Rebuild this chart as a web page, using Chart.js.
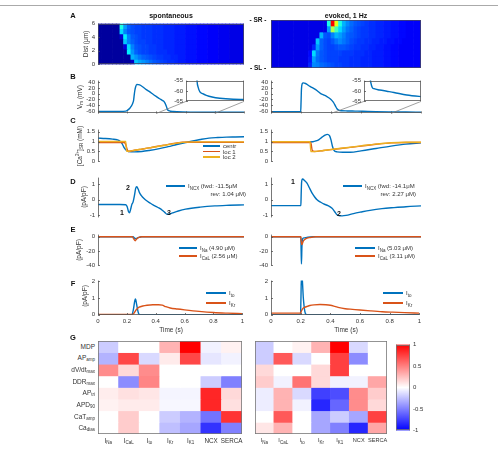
<!DOCTYPE html>
<html>
<head>
<meta charset="utf-8">
<title>Ca wave and currents</title>
<script src="https://cdn.jsdelivr.net/npm/chart.js@4.4.1/dist/chart.umd.min.js"></script>
<style>
  html, body { margin: 0; padding: 0; background: #fff; }
  #fig { position: relative; width: 498px; height: 452px; overflow: hidden;
         font-family: "Liberation Sans", Arial, sans-serif; color: #333; }
  #fig canvas { position: absolute; }
  .t { position: absolute; white-space: nowrap; line-height: 1; font-size: 6px; z-index: 5; }
  .t sub { font-size: 4.5px; vertical-align: -1.5px; line-height: 0; }
  .t sup { font-size: 4.5px; vertical-align: 2.5px; line-height: 0; }
  .b { font-weight: bold; color: #111; }
  .ln { position: absolute; height: 1.5px; z-index: 5; }
</style>
</head>
<body>
<div id="fig"></div>
<script>
// ---------- data ----------
const timeTicks = [0, 0.2, 0.4, 0.6, 0.8, 1];
const distTicks = [0, 2, 4, 6];
const vmTicks = [-60, -40, -20, 0, 20, 40];
const insetTicks = [-65, -60, -55];
const caTicks = [0, 0.5, 1, 1.5];
const ncxTicks = [-1, 0, 1];
const inTicks = [-40, -20, 0];
const outTicks = [0, 1, 2];
const cbTicks = [-1, -0.5, 0, 0.5, 1];

// panel A: line scan, rows from 6 um down to 0 um, columns 0..1 s in 40 bins (jet level 0-100)
const distEdges = [6, 5.25, 4.5, 3.75, 3, 2.25, 1.5, 0.75, 0];
const caMapSpont = [
  [3,3,3,3,3,3,40,28,22,20,19,19,18,18,18,17,17,17,16,16,16,15,15,15,14,14,14,13,13,13,12,12,12,11,11,11,10,10,10,10],
  [3,3,3,3,3,3,34,25,21,20,19,19,18,18,18,17,17,17,16,16,16,15,15,15,14,14,14,13,13,13,12,12,12,11,11,11,10,10,10,10],
  [3,3,3,3,3,3,8,36,25,21,20,19,18,18,18,17,17,17,16,16,16,15,15,15,14,14,14,13,13,13,12,12,12,11,11,11,10,10,10,10],
  [3,3,3,3,3,3,3,32,25,22,20,19,19,18,18,17,17,17,16,16,16,15,15,15,14,14,14,13,13,13,12,12,12,11,11,11,10,10,10,10],
  [3,3,3,3,3,3,3,9,34,25,21,20,19,19,18,18,17,17,16,16,16,15,15,15,14,14,14,13,13,13,12,12,12,11,11,11,10,10,10,10],
  [3,3,3,3,3,3,3,3,36,27,22,20,19,19,18,18,17,17,17,16,16,15,15,15,14,14,14,13,13,13,12,12,12,11,11,11,10,10,10,10],
  [3,3,3,3,3,3,3,3,3,30,27,24,22,21,20,19,18,18,17,17,16,16,15,15,14,14,14,13,13,13,12,12,12,11,11,11,10,10,10,10],
  [3,3,3,3,3,3,3,3,3,7,32,29,27,25,23,21,20,19,18,17,17,16,15,15,14,14,14,13,13,13,12,12,12,11,11,11,10,10,10,10]
];
const caMapEvk = [
  [10,10,10,10,10,10,10,10,10,10,10,10,10,10,10,40,88,60,40,30,26,23,21,20,19,18,17,17,16,16,15,15,14,14,13,13,12,12,12,12],
  [10,10,10,10,10,10,10,10,10,10,10,10,10,10,10,28,55,44,34,28,24,22,20,19,18,18,17,17,16,16,15,15,14,14,13,13,12,12,12,12],
  [10,10,10,10,10,10,10,10,10,10,10,10,10,30,21,20,25,30,28,25,22,21,20,19,18,18,17,17,16,16,15,15,14,14,13,13,12,12,12,12],
  [10,10,10,10,10,10,10,10,10,10,10,10,32,22,20,19,21,24,26,24,22,20,19,18,18,17,17,16,16,15,15,14,14,13,13,12,12,12,12,12],
  [10,10,10,10,10,10,10,10,10,10,10,16,28,22,20,19,19,20,21,21,20,19,18,18,17,17,16,16,15,15,14,14,13,13,12,12,12,12,12,12],
  [10,10,10,10,10,10,10,10,10,10,13,34,24,21,20,19,19,19,19,18,18,18,17,17,17,16,16,15,15,15,14,14,13,13,12,12,12,12,12,12],
  [10,10,10,10,10,10,10,10,10,10,14,28,23,21,20,19,19,19,18,18,18,17,17,17,16,16,16,15,15,15,14,14,13,13,12,12,12,12,12,12],
  [10,10,10,10,10,10,10,10,10,10,16,26,25,23,22,21,20,19,19,18,18,17,17,17,16,16,16,15,15,15,14,14,13,13,12,12,12,12,12,12]
];

// panel B: membrane potential (mV)
const tVmSpont = [0, 0.1, 0.19, 0.205, 0.218, 0.228, 0.238, 0.244, 0.248, 0.252, 0.258, 0.266, 0.285, 0.31, 0.331, 0.355, 0.377, 0.4, 0.422, 0.44, 0.455, 0.468, 0.476, 0.485, 0.496, 0.515, 0.54, 0.58, 0.633, 0.725, 0.8, 0.9, 1.0];
const vmSpont = [-61, -61, -60, -56, -50, -43, -33, -22, -5, 10, 24, 32, 30, 22, 14, 6, -2, -10, -17.5, -23, -29, -43, -55, -58.5, -60.4, -61.3, -62.1, -62.9, -63.5, -64, -64.1, -64.2, -64.2];
const tVmEvk = [0, 0.198, 0.2, 0.203, 0.208, 0.215, 0.23, 0.26, 0.284, 0.31, 0.329, 0.35, 0.373, 0.39, 0.407, 0.42, 0.43, 0.44, 0.448, 0.458, 0.47, 0.51, 0.56, 0.61, 0.7, 0.8, 0.9, 1.0];
const vmEvk = [-62, -62, -35, 15, 34, 37, 35, 25, 18, 9, 1, -4, -10, -16, -24, -33, -43, -52, -56, -58.3, -58.9, -59.5, -60.1, -60.7, -61.9, -62.7, -63.3, -63.7];

// panel C: SR calcium (mM)
const tCaCtrS = [0, 0.05, 0.1, 0.13, 0.15, 0.165, 0.18, 0.195, 0.21, 0.25, 0.3, 0.35, 0.42, 0.48, 0.54, 0.6, 0.65, 0.7, 0.76, 0.82, 0.88, 0.94, 1.0];
const caCtrS = [1.17, 1.15, 1.12, 1.09, 1.03, 0.9, 0.68, 0.55, 0.5, 0.48, 0.5, 0.55, 0.64, 0.74, 0.85, 0.95, 1.03, 1.1, 1.17, 1.2, 1.22, 1.23, 1.24];
const tCaL1S = [0, 0.18, 0.19, 0.2, 0.207, 0.25, 0.3, 0.35, 0.4, 0.45, 0.5, 0.55, 0.58, 0.7, 0.85, 1.0];
const caL1S = [0.95, 0.95, 0.85, 0.6, 0.5, 0.56, 0.62, 0.68, 0.75, 0.81, 0.88, 0.94, 0.96, 0.96, 0.96, 0.96];
const tCaL2S = [0, 0.19, 0.196, 0.21, 0.25, 0.3, 0.35, 0.4, 0.45, 0.5, 0.55, 0.6, 0.7, 0.85, 1.0];
const caL2S = [1.0, 1.0, 0.52, 0.51, 0.56, 0.62, 0.68, 0.74, 0.8, 0.87, 0.93, 0.97, 0.98, 0.98, 0.98];
const tCaCtrE = [0, 0.15, 0.28, 0.3, 0.32, 0.34, 0.36, 0.375, 0.39, 0.4, 0.41, 0.42, 0.44, 0.48, 0.53, 0.6, 0.7, 0.8, 0.9, 1.0];
const caCtrE = [0.97, 0.97, 0.99, 1.03, 1.1, 1.22, 1.32, 1.36, 1.3, 1.08, 0.75, 0.56, 0.48, 0.46, 0.46, 0.53, 0.65, 0.77, 0.87, 0.93];
const tCaL1E = [0, 0.265, 0.275, 0.29, 0.35, 0.4, 0.5, 0.6, 0.7, 0.8, 0.9, 1.0];
const caL1E = [0.95, 0.95, 0.55, 0.5, 0.55, 0.59, 0.68, 0.77, 0.86, 0.93, 0.95, 0.95];
const tCaL2E = [0, 0.26, 0.266, 0.28, 0.35, 0.4, 0.5, 0.6, 0.7, 0.8, 0.9, 1.0];
const caL2E = [0.99, 0.99, 0.5, 0.49, 0.55, 0.6, 0.69, 0.78, 0.87, 0.94, 0.96, 0.96];

// panel D: I_NCX (pA/pF)
const tNcxS = [0, 0.15, 0.19, 0.2, 0.208, 0.216, 0.224, 0.232, 0.24, 0.25, 0.258, 0.266, 0.275, 0.285, 0.297, 0.315, 0.331, 0.355, 0.377, 0.4, 0.42, 0.44, 0.457, 0.473, 0.49, 0.51, 0.55, 0.6, 0.7, 0.8, 0.9, 1.0];
const ncxS = [-0.31, -0.31, -0.32, -0.45, -0.75, -0.85, -0.6, -0.3, -0.15, 0.3, 0.75, 0.85, 0.7, 0.45, 0.27, 0.08, -0.05, -0.2, -0.33, -0.44, -0.55, -0.68, -0.82, -0.95, -0.93, -0.86, -0.73, -0.61, -0.48, -0.4, -0.36, -0.33];
const tNcxE = [0, 0.199, 0.201, 0.204, 0.21, 0.225, 0.24, 0.255, 0.273, 0.29, 0.307, 0.33, 0.351, 0.38, 0.407, 0.425, 0.44, 0.457, 0.475, 0.5, 0.55, 0.6, 0.66, 0.74, 0.82, 0.9, 1.0];
const ncxE = [-0.38, -0.38, 0.3, 1.15, 1.36, 1.25, 1.09, 0.8, 0.45, 0.2, 0.0, -0.15, -0.27, -0.38, -0.55, -0.78, -0.98, -1.04, -1.05, -1.02, -0.9, -0.8, -0.69, -0.58, -0.51, -0.45, -0.4];

// panel E: inward currents (pA/pF)
const tNaS = [0, 0.24, 0.25, 0.26, 0.275, 0.3, 1.0];
const iNaS = [0, 0, -2, -2.6, -1.2, 0, 0];
const tCaLS = [0, 0.235, 0.245, 0.255, 0.265, 0.28, 0.3, 1.0];
const iCaLS = [0, 0, -3, -5.5, -3, -1, 0, 0];
const tNaE = [0, 0.199, 0.201, 0.203, 0.206, 0.21, 0.22, 0.24, 0.28, 1.0];
const iNaE = [0, 0, -20, -38, -15, -3, -1.5, -0.8, 0, 0];
const tCaLE = [0, 0.199, 0.202, 0.206, 0.215, 0.23, 0.26, 0.3, 1.0];
const iCaLE = [0, 0, -8, -11, -6, -3, -1, 0, 0];

// panel F: outward currents (pA/pF)
const tToS = [0, 0.235, 0.245, 0.255, 0.26, 0.268, 0.28, 0.29, 1.0];
const iToS = [0, 0, 0.3, 0.85, 0.95, 0.6, 0.1, 0, 0];
const tKrS = [0, 0.24, 0.25, 0.265, 0.285, 0.31, 0.34, 0.38, 0.42, 0.445, 0.47, 0.5, 0.55, 0.6, 0.7, 0.8, 0.9, 1.0];
const iKrS = [0.02, 0.02, 0.1, 0.3, 0.45, 0.52, 0.57, 0.6, 0.6, 0.57, 0.48, 0.4, 0.34, 0.29, 0.2, 0.13, 0.09, 0.06];
const tToE = [0, 0.199, 0.202, 0.205, 0.21, 0.218, 0.228, 0.24, 1.0];
const iToE = [0, 0, 1.0, 2.3, 2.2, 1.0, 0.2, 0, 0];
const tKrE = [0, 0.199, 0.205, 0.215, 0.225, 0.245, 0.262, 0.29, 0.33, 0.37, 0.4, 0.43, 0.46, 0.5, 0.55, 0.6, 0.67, 0.75, 0.82, 0.9, 1.0];
const iKrE = [0.09, 0.09, 0.22, 0.38, 0.43, 0.5, 0.55, 0.59, 0.61, 0.6, 0.57, 0.5, 0.42, 0.36, 0.32, 0.28, 0.23, 0.18, 0.15, 0.12, 0.09];

// panel G: sensitivity coefficients
const rowNames = [['MDP', ''], ['AP', 'amp'], ['dV/dt', 'max'], ['DDR', 'max'], ['AP', 'tri'], ['APD', '90'], ['CaT', 'amp'], ['Ca', 'dias']];
const colNames = [['I', 'Na'], ['I', 'CaL'], ['I', 'to'], ['I', 'Kr'], ['I', 'K1'], ['NCX', ''], ['SERCA', '']];
const sensSpont = [
  [-0.2, 0, 0, 0.3, 1.0, -0.05, 0.05],
  [-0.3, 0.72, -0.15, 0.08, 0.72, -0.1, -0.05],
  [0.45, 0.15, 0.45, 0, 0, 0, 0],
  [0, -0.45, 0.48, 0, 0, -0.2, -0.5],
  [0.07, 0.12, 0.1, -0.04, -0.04, 0.85, 0.15],
  [0.05, 0.08, 0.08, -0.03, -0.03, 0.85, 0.12],
  [0, 0.2, 0, -0.2, -0.3, -0.55, 0.8],
  [0, 0.2, 0, -0.25, -0.35, -0.8, -0.5]
];
const sensEvk = [
  [-0.2, 0, 0.05, 0.3, 1.0, -0.15, 0],
  [-0.2, 0.65, -0.15, 0, 0.75, -0.45, 0],
  [0.15, 0, 0, 0.15, 0.75, 0, 0],
  [0.2, -0.05, 0.55, 0.15, -0.05, -0.05, 0.35],
  [-0.07, 0.3, -0.15, -0.75, -0.7, 0.45, 0.2],
  [-0.07, 0.3, -0.05, -0.85, -0.6, 0.45, 0.15],
  [0, 0.65, 0, -0.35, -0.2, -0.35, 0.75],
  [0.1, 0.3, 0, -0.35, -0.5, -0.85, 0.35]
];

// ---------- styles ----------
const BLUE = '#0072BD', ORANGE = '#D95319', YELLOW = '#EDB120';
Chart.defaults.font.family = '"Liberation Sans", Arial, sans-serif';
Chart.defaults.font.size = 6;
Chart.defaults.color = '#333';

function jet(v) {
  const t = v / 100;
  const c = x => Math.round(255 * Math.min(1, Math.max(0, x)));
  return `rgb(${c(1.5 - Math.abs(4 * t - 3))},${c(1.5 - Math.abs(4 * t - 2))},${c(1.5 - Math.abs(4 * t - 1))})`;
}
function bwr(v) {
  const k = Math.round(255 * (1 - Math.min(1, Math.abs(v))));
  return v >= 0 ? `rgb(255,${k},${k})` : `rgb(${k},${k},255)`;
}

// axes box + inward ticks, MATLAB style
const frame = {
  id: 'frame',
  beforeDatasetsDraw(chart, args, o) {
    if (!o || !o.fill) return;
    const a = chart.chartArea;
    chart.ctx.save();
    chart.ctx.fillStyle = o.fill;
    chart.ctx.fillRect(a.left, a.top, a.right - a.left, a.bottom - a.top);
    chart.ctx.restore();
  },
  afterDatasetsDraw(chart, args, o) {
    if (!o || !o.sides) return;
    const a = chart.chartArea, ctx = chart.ctx;
    const L = Math.round(a.left) + 0.5, R = Math.round(a.right) - 0.5;
    const T = Math.round(a.top) + 0.5, B = Math.round(a.bottom) - 0.5;
    ctx.save();
    ctx.strokeStyle = o.color || '#555';
    ctx.lineWidth = 0.8;
    ctx.beginPath();
    if (o.sides.includes('l')) { ctx.moveTo(L, a.top); ctx.lineTo(L, a.bottom); }
    if (o.sides.includes('r')) { ctx.moveTo(R, a.top); ctx.lineTo(R, a.bottom); }
    if (o.sides.includes('t')) { ctx.moveTo(a.left, T); ctx.lineTo(a.right, T); }
    if (o.sides.includes('b')) { ctx.moveTo(a.left, B); ctx.lineTo(a.right, B); }
    if (o.yTicks) {
      const ys = chart.scales.y;
      ys.ticks.forEach(tk => {
        const y = Math.round(ys.getPixelForValue(tk.value)) + 0.5;
        ctx.moveTo(a.left, y); ctx.lineTo(a.left + 2, y);
      });
    }
    if (o.xTicks) {
      const xs = chart.scales.x;
      timeTicks.forEach(v => {
        const x = Math.round(xs.getPixelForValue(v)) + 0.5;
        ctx.moveTo(x, a.bottom); ctx.lineTo(x, a.bottom - 2);
      });
    }
    ctx.stroke();
    ctx.restore();
  }
};

// zoom lines from the main axes to an inset
const insets = {};
const connector = {
  id: 'connector',
  afterDraw(chart, args, o) {
    if (!o || !o.key || !insets[o.key]) return;
    const ins = insets[o.key], a = chart.chartArea, ia = ins.chartArea, ctx = chart.ctx;
    const dx = parseFloat(ins.canvas.style.left) - parseFloat(chart.canvas.style.left);
    const dy = parseFloat(ins.canvas.style.top) - parseFloat(chart.canvas.style.top);
    const xs = chart.scales.x;
    ctx.save();
    ctx.strokeStyle = '#777';
    ctx.lineWidth = 0.7;
    ctx.beginPath();
    ctx.moveTo(xs.getPixelForValue(ins.scales.x.min), a.bottom);
    ctx.lineTo(dx + ia.left, dy + ia.bottom);
    ctx.moveTo(xs.getPixelForValue(ins.scales.x.max), a.bottom);
    ctx.lineTo(dx + ia.right, dy + ia.bottom);
    ctx.stroke();
    ctx.restore();
  }
};
Chart.register(frame, connector);

const fig = document.getElementById('fig');

function makeChart(rect, pad, cfg, z) {
  const cv = document.createElement('canvas');
  cv.width = rect.r - rect.l + pad.l + pad.r;
  cv.height = rect.b - rect.t + pad.t + pad.b;
  cv.style.left = (rect.l - pad.l) + 'px';
  cv.style.top = (rect.t - pad.t) + 'px';
  if (z) cv.style.zIndex = z;
  fig.appendChild(cv);
  cfg.options = Object.assign({ responsive: false, animation: false, events: [] }, cfg.options);
  return new Chart(cv, cfg);
}

function yScale(min, max, ticks, width, extra) {
  return Object.assign({
    type: 'linear', min, max,
    afterFit: s => { s.width = width; },
    afterBuildTicks: s => { s.ticks = (ticks || []).map(v => ({ value: v })); },
    grid: { display: false, drawTicks: false },
    border: { display: false },
    ticks: { display: !!ticks, padding: 3, autoSkip: false, callback: v => String(v) }
  }, extra || {});
}

function trace(xs, ys, color, order) {
  return {
    data: xs.map((x, i) => ({ x, y: ys[i] })),
    borderColor: color, borderWidth: 1.4, pointRadius: 0,
    cubicInterpolationMode: 'monotone', fill: false, order
  };
}

function traceChart(rect, yMin, yMax, ticks, sets, o = {}) {
  const padL = o.padL || 30, padB = o.timeAxis ? 15 : 3;
  const x = o.timeAxis ? {
    type: 'linear', min: 0, max: 1,
    afterFit: s => { s.height = padB; },
    afterBuildTicks: s => { s.ticks = timeTicks.map(v => ({ value: v })); },
    grid: { display: false, drawTicks: false }, border: { display: false },
    ticks: { padding: 3, maxRotation: 0, autoSkip: false, callback: v => String(v) }
  } : { type: 'linear', min: o.xMin ?? 0, max: o.xMax ?? 1, display: false };
  return makeChart(rect, { l: padL, t: 3, r: 3, b: padB }, {
    type: 'line',
    data: { datasets: sets },
    options: {
      layout: { padding: { left: 0, top: 3, right: 3, bottom: o.timeAxis ? 0 : 3 } },
      scales: { x, y: yScale(yMin, yMax, ticks, padL) },
      plugins: {
        legend: { display: false }, tooltip: { enabled: false },
        frame: { sides: o.sides || 'l', yTicks: true, xTicks: !!o.xTicks, fill: o.fill || '' },
        connector: { key: o.connector || '' }
      }
    }
  }, o.z);
}

function lineScan(rect, grid, ticks) {
  const padL = ticks ? 30 : 3;
  return makeChart(rect, { l: padL, t: 3, r: 3, b: 3 }, {
    type: 'bar',
    data: {
      labels: grid[0].map((_, c) => c),
      datasets: grid.map((row, i) => ({
        data: row.map(() => [distEdges[i + 1], distEdges[i]]),
        backgroundColor: row.map(jet),
        borderWidth: 0, grouped: false, barPercentage: 1, categoryPercentage: 1
      }))
    },
    options: {
      layout: { padding: { left: 0, top: 3, right: 3, bottom: 3 } },
      scales: { x: { display: false }, y: yScale(0, 6, ticks, padL) },
      plugins: { legend: { display: false }, tooltip: { enabled: false },
        frame: { sides: 'lrtb', yTicks: !!ticks, color: '#446' } }
    }
  });
}

function sensMap(rect, mat) {
  return makeChart(rect, { l: 1, t: 1, r: 1, b: 1 }, {
    type: 'bar',
    data: {
      labels: colNames.map(c => c.join('')),
      datasets: mat.map((row, i) => ({
        data: row.map(() => [i, i + 1]),
        backgroundColor: row.map(bwr),
        borderWidth: 0, grouped: false, barPercentage: 1, categoryPercentage: 1
      }))
    },
    options: {
      layout: { padding: 1 },
      scales: { x: { display: false }, y: { display: false, min: 0, max: rowNames.length, reverse: true } },
      plugins: { legend: { display: false }, tooltip: { enabled: false }, frame: { sides: 'lrtb', color: '#777' } }
    }
  });
}

// ---------- text helpers ----------
function txt(html, x, y, cls, align, size) {
  const d = document.createElement('div');
  d.className = 't ' + (cls || '');
  d.innerHTML = html;
  d.style.left = x + 'px';
  d.style.top = y + 'px';
  const tx = { c: '-50%', l: '0', r: '-100%' }[align || 'c'];
  d.style.transform = `translate(${tx},-50%)`;
  if (size) d.style.fontSize = size + 'px';
  fig.appendChild(d);
  return d;
}
function vtxt(html, x, y, size) {
  const d = txt(html, x, y, '', 'c', size || 6.5);
  d.style.transform = 'translate(-50%,-50%) rotate(-90deg)';
}
function legendRow(x0, x1, y, color, html, size) {
  const l = document.createElement('div');
  l.className = 'ln';
  l.style.left = x0 + 'px';
  l.style.top = (y - 0.75) + 'px';
  l.style.width = (x1 - x0) + 'px';
  l.style.background = color;
  fig.appendChild(l);
  if (html) txt(html, x1 + 3, y, '', 'l', size || 6);
}

// ---------- panels ----------
const colL = { l: 98, r: 244 }, colR = { l: 271, r: 421 };
const R = (c, t, b) => ({ l: c.l, r: c.r, t, b });

// A
lineScan(R(colL, 20, 68), caMapSpont, distTicks);
lineScan(R(colR, 20, 68), caMapEvk, null);

// B (insets first, drawn above)
insets.bl = traceChart({ l: 186, r: 244, t: 77, b: 105 }, -65, -55, insetTicks,
  [trace(tVmSpont, vmSpont, BLUE, 1)], { padL: 18, xMin: 0.4, xMax: 0.8, sides: 'lrtb', fill: '#fff', z: 2 });
insets.br = traceChart({ l: 364, r: 421, t: 77, b: 105 }, -65, -55, insetTicks,
  [trace(tVmEvk, vmEvk, BLUE, 1)], { padL: 18, xMin: 0.4, xMax: 0.8, sides: 'lrtb', fill: '#fff', z: 2 });
traceChart(R(colL, 77, 117), -68, 45, vmTicks, [trace(tVmSpont, vmSpont, BLUE, 1)], { sides: 'lb', xTicks: true, connector: 'bl' });
traceChart(R(colR, 77, 117), -68, 45, vmTicks, [trace(tVmEvk, vmEvk, BLUE, 1)], { sides: 'lb', xTicks: true, connector: 'br' });

// C
traceChart(R(colL, 126, 165), 0, 1.6, caTicks, [
  trace(tCaCtrS, caCtrS, BLUE, 3), trace(tCaL1S, caL1S, ORANGE, 2), trace(tCaL2S, caL2S, YELLOW, 1)]);
traceChart(R(colR, 126, 165), 0, 1.6, caTicks, [
  trace(tCaCtrE, caCtrE, BLUE, 3), trace(tCaL1E, caL1E, ORANGE, 2), trace(tCaL2E, caL2E, YELLOW, 1)]);

// D
traceChart(R(colL, 174, 221), -1.15, 1.45, ncxTicks, [trace(tNcxS, ncxS, BLUE, 1)]);
traceChart(R(colR, 174, 221), -1.15, 1.45, ncxTicks, [trace(tNcxE, ncxE, BLUE, 1)]);

// E
traceChart(R(colL, 231, 269), -40, 3, inTicks, [trace(tNaS, iNaS, BLUE, 2), trace(tCaLS, iCaLS, ORANGE, 1)]);
traceChart(R(colR, 231, 269), -40, 3, inTicks, [trace(tNaE, iNaE, BLUE, 2), trace(tCaLE, iCaLE, ORANGE, 1)]);

// F
traceChart(R(colL, 277, 315), -0.02, 2.05, outTicks, [trace(tToS, iToS, BLUE, 2), trace(tKrS, iKrS, ORANGE, 1)],
  { timeAxis: true, sides: 'lb', xTicks: true });
traceChart(R(colR, 277, 315), -0.02, 2.05, outTicks, [trace(tToE, iToE, BLUE, 2), trace(tKrE, iKrE, ORANGE, 1)],
  { timeAxis: true, sides: 'lb', xTicks: true });

// G
const gL = sensMap({ l: 98, r: 242, t: 341, b: 434 }, sensSpont);
const gR = sensMap({ l: 255, r: 387, t: 341, b: 434 }, sensEvk);
makeChart({ l: 396, r: 410, t: 341, b: 434 }, { l: 1, t: 3, r: 24, b: 3 }, {
  type: 'bar',
  data: {
    labels: ['cb'],
    datasets: [{
      data: [[cbTicks[0], cbTicks[cbTicks.length - 1]]],
      backgroundColor: c => {
        const a = c.chart.chartArea;
        if (!a) return '#fff';
        const g = c.chart.ctx.createLinearGradient(0, a.bottom, 0, a.top);
        g.addColorStop(0, bwr(-1)); g.addColorStop(0.5, bwr(0)); g.addColorStop(1, bwr(1));
        return g;
      },
      borderWidth: 0, barPercentage: 1, categoryPercentage: 1
    }]
  },
  options: {
    layout: { padding: { left: 1, top: 3, right: 0, bottom: 3 } },
    scales: { x: { display: false }, y: yScale(-1, 1, cbTicks, 24, { position: 'right' }) },
    plugins: { legend: { display: false }, tooltip: { enabled: false }, frame: { sides: 'lrtb', color: '#777' } }
  }
});

// G labels placed through the chart scales
function sensLabels(ch, withRows, size) {
  const ox = parseFloat(ch.canvas.style.left), oy = parseFloat(ch.canvas.style.top);
  const a = ch.chartArea;
  if (withRows) {
    rowNames.forEach((r, i) => {
      const y = oy + ch.scales.y.getPixelForValue(i + 0.5);
      txt(r[0] + (r[1] ? '<sub>' + r[1] + '</sub>' : ''), ox + a.left - 3, y, '', 'r', 6.5);
    });
  }
  colNames.forEach((c, j) => {
    const x = ox + ch.scales.x.getPixelForValue(j);
    txt(c[0] + (c[1] ? '<sub>' + c[1] + '</sub>' : ''), x, oy + a.bottom + 7, '', 'c', size);
  });
}
sensLabels(gL, true, 6.3);
sensLabels(gR, false, 5.6);

// ---------- figure text ----------
const topRule = document.createElement('div');
topRule.style.cssText = 'position:absolute;left:0;top:5px;width:498px;height:1px;background:#aaa;';
fig.appendChild(topRule);

[['A', 16], ['B', 77], ['C', 121], ['D', 182], ['E', 230], ['F', 284], ['G', 338]]
  .forEach(([s, y]) => txt(s, 73, y, 'b', 'c', 7.5));

txt('spontaneous', 171, 15, 'b', 'c', 7);
txt('evoked, 1 Hz', 346, 15, 'b', 'c', 7);
txt('- SR -', 258, 20, 'b', 'c', 6.5);
txt('- SL -', 258, 68, 'b', 'c', 6.5);

vtxt('Dist (&mu;m)', 86, 44);
vtxt('V<sub>m</sub> (mV)', 80, 97);
vtxt('[Ca<sup>2+</sup>]<sub>SR</sub> (mM)', 80, 146);
vtxt('(pA/pF)', 84, 197);
vtxt('(pA/pF)', 79, 250);
vtxt('(pA/pF)', 85, 296);

txt('Time (s)', 171, 330, '', 'c', 6.5);
txt('Time (s)', 346, 330, '', 'c', 6.5);

// C legend
legendRow(203, 220, 146, BLUE, 'centr');
legendRow(203, 220, 151.5, ORANGE, 'loc 1');
legendRow(203, 220, 157, YELLOW, 'loc 2');

// D legends and markers
legendRow(166, 185, 186, BLUE, 'I<sub>NCX</sub> (fwd: -11.5&mu;M');
txt('rev: 1.04 &mu;M)', 246, 194, '', 'r', 6);
legendRow(343, 362, 186, BLUE, 'I<sub>NCX</sub> (fwd: -14.1&mu;M');
txt('rev: 2.27 &mu;M)', 416, 194, '', 'r', 6);
txt('1', 122, 212, 'b', 'c', 7);
txt('2', 128, 187, 'b', 'c', 7);
txt('3', 169, 212, 'b', 'c', 7);
txt('1', 293, 181, 'b', 'c', 7);
txt('2', 339, 213, 'b', 'c', 7);

// E legends
legendRow(179, 197, 248, BLUE, 'I<sub>Na</sub> (4.90 &mu;M)');
legendRow(179, 197, 256, ORANGE, 'I<sub>CaL</sub> (2.56 &mu;M)');
legendRow(355, 375, 248, BLUE, 'I<sub>Na</sub> (5.03 &mu;M)');
legendRow(355, 375, 256, ORANGE, 'I<sub>CaL</sub> (3.11 &mu;M)');

// F legends
legendRow(206, 226, 293, BLUE, 'I<sub>to</sub>');
legendRow(206, 226, 303, ORANGE, 'I<sub>Kr</sub>');
legendRow(383, 403, 293, BLUE, 'I<sub>to</sub>');
legendRow(383, 403, 303, ORANGE, 'I<sub>Kr</sub>');
</script>
</body>
</html>
